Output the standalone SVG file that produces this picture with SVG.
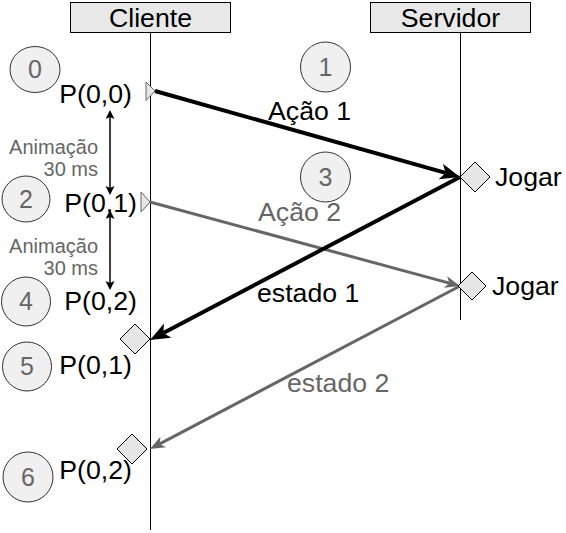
<svg xmlns="http://www.w3.org/2000/svg" width="566" height="533" viewBox="0 0 566 533">
<style>
text{font-family:"Liberation Sans",Arial,sans-serif}
.hdr{fill:#e8e8e8;stroke:#000;stroke-width:1}
.ht{font-size:26.7px;fill:#000;text-anchor:middle}
.life{stroke:#000;stroke-width:1;fill:none}
.num{fill:#f0f0f0;stroke:#333;stroke-width:1}
.nt{font-size:25px;fill:#666;text-anchor:middle}
.pl{font-size:26.7px;fill:#000;text-anchor:end}
.lbl{font-size:26.7px;fill:#000}
.glbl{font-size:26.7px;fill:#666}
.anim{font-size:20px;fill:#666;text-anchor:end}
.dia{fill:#e6e6e6;stroke:#000;stroke-width:1}
.tri{fill:#e6e6e6;stroke:#666;stroke-width:1}
.blk{stroke:#000;stroke-width:4;fill:none}
.gry{stroke:#666;stroke-width:3;fill:none}
.dbl{stroke:#000;stroke-width:1.5;fill:none}
</style>
<defs>
<marker id="ab" markerUnits="userSpaceOnUse" markerWidth="22" markerHeight="18" refX="5" refY="8" orient="auto"><path d="M0,0 L20,8 L0,16 L5,8 z" fill="#000"/></marker>
<marker id="ag" markerUnits="userSpaceOnUse" markerWidth="17" markerHeight="14" refX="4" refY="6" orient="auto"><path d="M0,0 L15,6 L0,12 L4,6 z" fill="#666"/></marker>
<marker id="ad" markerUnits="userSpaceOnUse" markerWidth="10" markerHeight="10" refX="2" refY="4.5" orient="auto-start-reverse"><path d="M0,0 L9,4.5 L0,9 L2,4.5 z" fill="#000"/></marker>
</defs>
<g id="cliente">
<rect class="hdr" x="70.5" y="2.5" width="160" height="30"/>
<text class="ht" x="150.5" y="26.5">Cliente</text>
<line class="life" x1="150.5" y1="32.5" x2="150.5" y2="530"/>
</g>
<g id="servidor">
<rect class="hdr" x="370.5" y="2.5" width="160" height="30"/>
<text class="ht" x="450.5" y="26.5">Servidor</text>
<line class="life" x1="460.5" y1="32.5" x2="460.5" y2="320"/>
</g>
<g id="connectors">
<path class="blk" d="M155,91 L445.6,172.9" marker-end="url(#ab)"/>
<path class="gry" d="M150,202 L449.4,283.1" marker-end="url(#ag)"/>
<path class="blk" d="M460,177 L163.3,333" marker-end="url(#ab)"/>
<path class="gry" d="M460,286 L159.7,443.9" marker-end="url(#ag)"/>
<path class="dbl" d="M110,117 L110,188" marker-start="url(#ad)" marker-end="url(#ad)"/>
<path class="dbl" d="M110,217 L110,283" marker-start="url(#ad)" marker-end="url(#ad)"/>
</g>
<g id="t0"><polygon class="tri" points="146,82 155,91 146,100.5"/></g>
<g id="t1"><polygon class="tri" points="141,192 150,202 141,212"/></g>
<g id="d1"><polygon class="dia" points="460,177 475,162 490,177 475,192"/><text class="lbl" x="495" y="186">Jogar</text></g>
<g id="d2"><polygon class="dia" points="458,286 472,272 486,286 472,300"/><text class="lbl" x="492" y="295">Jogar</text></g>
<g id="d5"><polygon class="dia" points="120,339 135,324 150,339 135,354"/></g>
<g id="d6"><polygon class="dia" points="117,449 132,434 147,449 132,464"/></g>
<g id="n0"><ellipse class="num" cx="35" cy="69.5" rx="25" ry="23"/><text class="nt" x="35" y="78">0</text></g>
<g id="n1"><circle class="num" cx="325.5" cy="67" r="25"/><text class="nt" x="325.5" y="76">1</text></g>
<g id="n2"><ellipse class="num" cx="26" cy="199" rx="24" ry="23"/><text class="nt" x="26" y="207.5">2</text></g>
<g id="n3"><circle class="num" cx="325.5" cy="177" r="25"/><text class="nt" x="325.5" y="186">3</text></g>
<g id="n4"><circle class="num" cx="26" cy="301.5" r="24.5"/><text class="nt" x="26" y="310">4</text></g>
<g id="n5"><circle class="num" cx="27" cy="366.5" r="24.5"/><text class="nt" x="27" y="375">5</text></g>
<g id="n6"><circle class="num" cx="28" cy="477" r="25"/><text class="nt" x="28" y="486">6</text></g>
<g id="plabels">
<text class="pl" x="132" y="103">P(0,0)</text>
<text class="pl" x="137" y="212">P(0,1)</text>
<text class="pl" x="137" y="310">P(0,2)</text>
<text class="pl" x="132" y="374">P(0,1)</text>
<text class="pl" x="132" y="479">P(0,2)</text>
</g>
<g id="anim1"><text class="anim" x="98" y="154">Animação</text><text class="anim" x="98" y="176">30 ms</text></g>
<g id="anim2"><text class="anim" x="98" y="253">Animação</text><text class="anim" x="98" y="275">30 ms</text></g>
<g id="labels">
<text class="lbl" x="268" y="120">Ação 1</text>
<text class="glbl" x="258" y="221">Ação 2</text>
<text class="lbl" x="257" y="302">estado 1</text>
<text class="glbl" x="287" y="392">estado 2</text>
</g>
</svg>
